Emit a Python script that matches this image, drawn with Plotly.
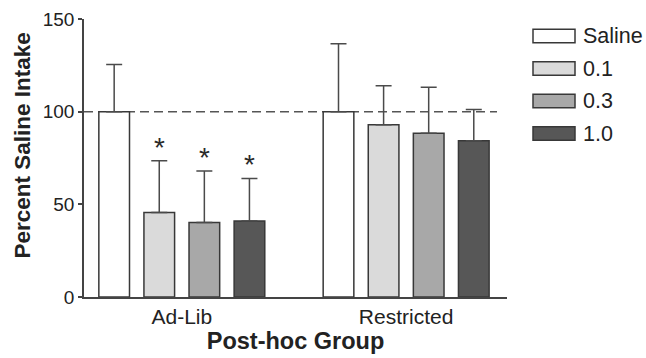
import plotly.graph_objects as go

# ---- data ----
groups = ["Ad-Lib", "Restricted"]
series_names = ["Saline", "0.1", "0.3", "1.0"]
means = {
    "Saline": [100, 100],
    "0.1": [45.6, 93],
    "0.3": [40.2, 88.3],
    "1.0": [41, 84.3],
}
sem_up = {
    "Saline": [25.4, 36.6],
    "0.1": [27.9, 21],
    "0.3": [27.8, 24.9],
    "1.0": [23, 16.9],
}
significant = {
    "Saline": [False, False],
    "0.1": [True, False],
    "0.3": [True, False],
    "1.0": [True, False],
}
y_ticks = [0, 50, 100, 150]
reference_level = 100

# ---- styles ----
fill_colors = {"Saline": "#ffffff", "0.1": "#dadada", "0.3": "#a8a8a8", "1.0": "#575757"}
edge = "#383838"
FONT = "Liberation Sans, Arial, sans-serif"

W, H = 646, 358
ML, MR, MT, MB = 84, 139, 19, 61
BARGAP = 0.196
BARGROUPGAP = 0.32

fig = go.Figure()
for name in series_names:
    fig.add_trace(go.Bar(
        name=name,
        x=groups,
        y=means[name],
        marker=dict(color=fill_colors[name], line=dict(color=edge, width=1.5)),
        error_y=dict(type="data", symmetric=False, array=sem_up[name],
                     arrayminus=[0] * len(groups), color="#4a4a4a",
                     thickness=1.5, width=8),
        showlegend=False,
    ))

# asterisks above the error bars of significant bars
n = len(series_names)
slot = (1 - BARGAP) / n
annotations = []
for i, name in enumerate(series_names):
    for gi, g in enumerate(groups):
        if significant[name][gi]:
            annotations.append(dict(
                x=gi + (i - (n - 1) / 2) * slot, xref="x",
                y=means[name][gi] + sem_up[name][gi], yref="y",
                text="*", showarrow=False, yanchor="bottom",
                yshift=-4,
                font=dict(family=FONT, size=28, color="#2a2a2a"),
            ))

# y-axis title as annotation
pw = W - ML - MR
ph = H - MT - MB
annotations.append(dict(
    text="<b>Percent Saline Intake</b>", textangle=-90,
    x=0, xref="paper", xanchor="right", xshift=-48,
    y=(H - MB - 146) / ph, yref="paper", yanchor="middle",
    showarrow=False, font=dict(family=FONT, size=22.5, color="#222222"),
))

# custom legend
shapes = []
sw_x0, sw_x1 = 533, 575
sw_h = 13.5
first_cy, step = 36, 32.5
for i, name in enumerate(series_names):
    cy = first_cy + i * step
    shapes.append(dict(
        type="rect", xref="paper", yref="paper",
        x0=(sw_x0 - ML) / pw, x1=(sw_x1 - ML) / pw,
        y0=(H - MB - (cy + sw_h / 2)) / ph, y1=(H - MB - (cy - sw_h / 2)) / ph,
        fillcolor=fill_colors[name], line=dict(color=edge, width=1.5),
    ))
    annotations.append(dict(
        text=name, x=(581 - ML) / pw, xref="paper", xanchor="left",
        y=(H - MB - cy) / ph, yref="paper", yanchor="middle",
        showarrow=False, font=dict(family=FONT, size=21.5, color="#222222"),
    ))

# dashed reference line
shapes.append(dict(
    type="line", xref="paper", yref="y", x0=0, x1=(497 - ML) / pw,
    y0=reference_level, y1=reference_level,
    line=dict(color="#555555", width=1.5, dash="9px,5px"),
    layer="below",
))

fig.update_layout(
    width=W, height=H,
    margin=dict(l=ML, r=MR, t=MT, b=MB, pad=0, autoexpand=False),
    paper_bgcolor="white", plot_bgcolor="white",
    barmode="group", bargap=BARGAP, bargroupgap=BARGROUPGAP,
    font=dict(family=FONT, color="#222222"),
    shapes=shapes, annotations=annotations,
    xaxis=dict(
        range=[-0.436, 1.4496], showline=True, linecolor="#444444", linewidth=1.5,
        ticks="", showgrid=False, zeroline=False, automargin=False,
        tickfont=dict(family=FONT, size=21, color="#222222"),
        title=dict(text="<b>Post-hoc Group</b>", standoff=6,
                   font=dict(family=FONT, size=23.5, color="#222222")),
    ),
    yaxis=dict(
        range=[0, 150], tickvals=y_ticks, showline=True, linecolor="#444444",
        linewidth=1.5, ticks="outside", ticklen=4, tickwidth=1.5, tickcolor="#444444",
        showgrid=False, zeroline=False, automargin=False,
        tickfont=dict(family=FONT, size=19, color="#222222"),
    ),
)

fig.write_html("out.html", config={"displayModeBar": False},
               post_script="document.body.style.margin='0px';")
